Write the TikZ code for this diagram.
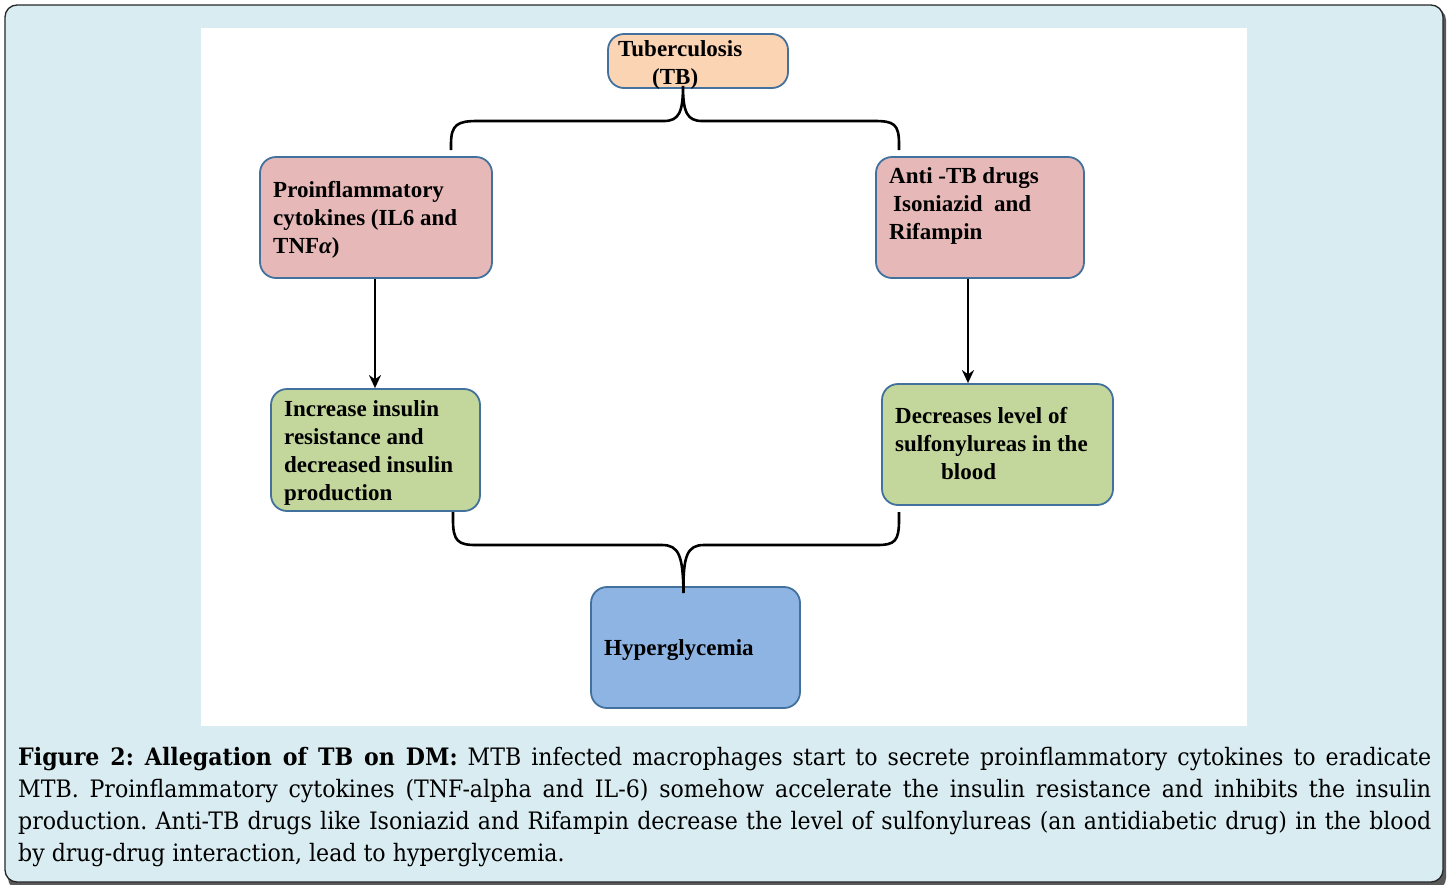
\documentclass[tikz,border=0pt]{standalone}
\usepackage{fontspec}
\setmainfont{Liberation Serif}
\newfontfamily\capfont[FakeStretch=0.92]{DejaVu Serif}
\usetikzlibrary{arrows.meta}
\definecolor{bgblue}{HTML}{D8ECF1}
\definecolor{boxline}{HTML}{41719C}
\definecolor{tbfill}{HTML}{FBD4B4}
\definecolor{pinkfill}{HTML}{E6B9B8}
\definecolor{greenfill}{HTML}{C3D69B}
\definecolor{bluefill}{HTML}{8EB4E3}
\tikzset{
  flowbox/.style={draw=boxline, line width=1.8pt, rounded corners=16pt, inner sep=0pt},
  boxtext/.style={anchor=base west, inner sep=0pt, font=\fontsize{23}{28}\selectfont\bfseries},
  brace/.style={line width=2.6pt, black},
  arr/.style={line width=2.4pt, -{Stealth[length=13pt,width=12pt]}}
}
\newcommand{\btxt}[1]{\parbox[t]{320pt}{\raggedright #1}}
\begin{document}
\begin{tikzpicture}[x=1pt,y=-1pt]
\useasboundingbox (0,0) rectangle (1449,884);
% outer frame
\fill[black!65, rounded corners=12pt] (8,8) rectangle (1446,890);
\draw[fill=bgblue, draw=black!85, line width=1.3pt, rounded corners=12pt] (5,5) rectangle (1443,882);
% white panel
\fill[white] (201,28) rectangle (1247,726);

% boxes
\node[flowbox, fill=tbfill, minimum width=180pt, minimum height=54pt] (tb) at (698,61) {};
\node[flowbox, fill=pinkfill, minimum width=232pt, minimum height=121pt] (pro) at (376,217.5) {};
\node[flowbox, fill=pinkfill, minimum width=208pt, minimum height=121pt] (anti) at (980,217.5) {};
\node[flowbox, fill=greenfill, minimum width=209pt, minimum height=122pt] (inc) at (375.5,450) {};
\node[flowbox, fill=greenfill, minimum width=231pt, minimum height=121pt] (dec) at (997.5,444.5) {};
\node[flowbox, fill=bluefill, minimum width=209pt, minimum height=121pt] (hyp) at (695.5,647.5) {};

% texts
\node[boxtext] (tbt) at (618,56) {\btxt{Tuberculosis\\\hspace*{34pt}(TB)}};
\node[boxtext] (prot) at (273,197) {\btxt{Proinflammatory\\cytokines (IL6 and\\TNF{\itshape α})}};
\node[boxtext] (antit) at (889,183) {\btxt{Anti -TB drugs\\\hspace*{4pt}Isoniazid\ \ and\\Rifampin}};
\node[boxtext] (inct) at (284,416) {\btxt{Increase insulin\\resistance and\\decreased insulin\\production}};
\node[boxtext] (dect) at (895,423) {\btxt{Decreases level of\\sulfonylureas in the\\\hspace*{46pt}blood}};
\node[boxtext] (hypt) at (604,655) {Hyperglycemia};

% braces
\coordinate (tbtip) at ([xshift=-15pt,yshift=3pt]tb.south);
\coordinate (bl1) at (451,150);
\coordinate (br1) at (899,150);
\draw[brace] (bl1) -- (451,144) .. controls (451,124) and (458,121) .. (478,121) -- (664,121)
  .. controls (679,121) and (683,112) .. (tbtip)
  .. controls (683,112) and (687,121) .. (702,121) -- (874,121)
  .. controls (894,121) and (899,124) .. (899,144) -- (br1);
\coordinate (hyptip) at ([xshift=-12pt,yshift=-7pt]hyp.north);
\coordinate (bl2) at (453,512);
\coordinate (br2) at (899,512);
\draw[brace] (bl2) -- (453,520) .. controls (453,541) and (458,545) .. (476,545) -- (662,545)
  .. controls (679,545) and (683,556) .. (hyptip)
  .. controls (683,556) and (687,545) .. (704,545) -- (877,545)
  .. controls (895,545) and (899,541) .. (899,520) -- (br2);

% arrows
\draw[arr] ([xshift=-1pt]pro.south) -- ([xshift=-1pt]pro.south |- inc.north);
\draw[arr] ([xshift=-12pt]anti.south) -- ([xshift=-12pt]anti.south |- dec.north);

% caption
\node[anchor=base west, inner sep=0pt] (cap) at (18,765) {\parbox[t]{1413pt}{\capfont\frenchspacing\fontsize{24}{32}\selectfont
\textbf{Figure 2: Allegation of TB on DM:} MTB infected macrophages start to secrete proinflammatory cytokines to eradicate\linebreak
MTB. Proinflammatory cytokines (TNF-alpha and IL-6) somehow accelerate the insulin resistance and inhibits the insulin\linebreak
production. Anti-TB drugs like Isoniazid and Rifampin decrease the level of sulfonylureas (an antidiabetic drug) in the blood\linebreak
by drug-drug interaction, lead to hyperglycemia.}};
\end{tikzpicture}
\end{document}
